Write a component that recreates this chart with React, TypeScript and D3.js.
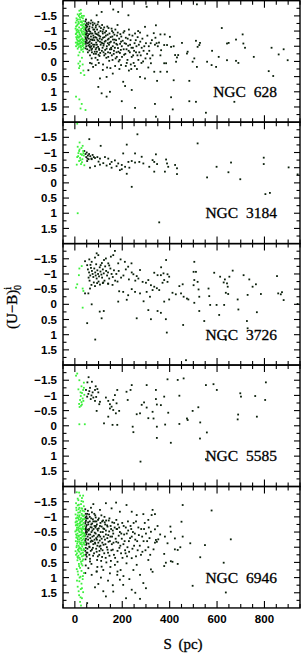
import React from "react";
import * as d3 from "d3";

type P = [number, number];

const galaxyNames = ["NGC 628", "NGC 3184", "NGC 3726", "NGC 5585", "NGC 6946"];
const xMajorTicks = [0, 200, 400, 600, 800];
const yMajorTicks = [-1.5, -1, -0.5, 0, 0.5, 1, 1.5];
const yTickLabels = ["−1.5", "−1", "−0.5", "0", "0.5", "1", "1.5"];

const ngc628Green: P[] = [[8,-1.35],[15,-1.3],[22,-1.38],[30,-1.28],[36,-1.33],[12,-1.22],[26,-1.2],[40,-1.24],[5,-1.15],[18,-1.12],[33,-1.1],[10,-1.05],[24,-1.02],[38,-1.05],[14,-0.98],[29,-0.95],[6,-0.92],[20,-0.9],[35,-0.88],[42,-0.95],[11,-0.85],[26,-0.82],[17,-0.78],[32,-0.76],[8,-0.74],[39,-0.72],[22,-0.7],[14,-0.66],[28,-0.64],[4,-0.62],[35,-0.6],[19,-0.58],[10,-0.55],[25,-0.52],[31,-0.5],[16,-0.47],[38,-0.45],[21,-1.45],[30,-1.5],[12,-1.55],[26,-1.58],[19,-1.67],[21,-1.56],[34,-1.42],[7,-1.42],[17,-1.25],[31,-1.18],[3,-1.08],[27,-1.07],[36,-0.98],[9,-0.96],[23,-0.86],[41,-0.83],[13,-0.8],[29,-0.73],[18,-0.68],[37,-0.67],[6,-0.8],[24,-0.6],[33,-0.55],[12,-0.42],[27,-0.38],[20,-0.3],[35,-0.32],[15,-0.2],[30,-0.12],[15,0.07],[22,0.0],[33,0.1],[18,0.22],[36,0.3],[25,0.38],[40,0.45],[21,0.15],[5,1.16],[19,1.25],[29,1.4],[24,1.55],[45,1.6],[16,-1.02],[32,-0.9],[9,-1.18],[28,-1.32],[37,-1.15],[19,-0.82],[4,-0.9],[25,-0.72],[13,-0.58],[34,-0.7]];
const ngc628GreenExtra: P[] = [[4,-1.28],[13,-1.38],[24,-1.3],[35,-1.22],[41,-1.12],[7,-1.02],[18,-0.95],[29,-1.0],[39,-0.9],[11,-0.7],[20,-0.65],[31,-0.62],[40,-0.58],[5,-0.5],[15,-0.55],[26,-0.45],[36,-0.52],[9,-0.62],[22,-0.5],[33,-0.4],[17,-1.5],[28,-1.45],[38,-1.5],[25,-1.7]];
const ngc628Black: P[] = [[44,-1.32],[46,-1.2],[45,-1.1],[48,-1.02],[44,-0.95],[47,-0.88],[45,-0.8],[49,-0.72],[44,-0.65],[46,-0.58],[48,-0.5],[45,-0.43],[50,-1.26],[52,-1.15],[51,-0.98],[53,-0.84],[50,-0.68],[54,-0.6],[52,-0.4],[47,-1.38],[55,-0.3],[44,-1.05],[46,-0.75],[47,-0.62],[45,-0.9],[49,-1.12],
[58,-1.28],[62,-1.15],[57,-1.05],[65,-0.98],[60,-0.9],[68,-0.82],[59,-0.75],[63,-0.66],[70,-0.6],[57,-0.52],[66,-0.45],[61,-0.36],[72,-0.3],[64,-0.2],[76,-1.2],[78,-1.05],[74,-0.92],[79,-0.78],[75,-0.7],[77,-0.55],[73,-0.42],[80,-0.25],[69,-1.35],[71,-0.1],[57,0.29],[71,0.07],[60,-1.0],[67,-0.72],[62,-0.55],[74,-1.12],[56,-0.85],[69,-0.5],
[83,-1.25],[88,-1.12],[85,-0.98],[92,-0.9],[86,-0.8],[95,-0.72],[90,-0.62],[84,-0.55],[98,-0.48],[88,-0.4],[93,-0.32],[100,-0.22],[87,-0.12],[96,-0.05],[104,-1.15],[108,-1.0],[102,-0.85],[106,-0.65],[109,-0.55],[103,-0.38],[107,-0.28],[101,0.05],[92,-1.52],[113,-1.63],[99,-1.3],[106,0.56],[99,0.84],[113,1.05],[94,-1.05],[82,-0.7],[97,-0.88],[89,-0.25],[105,-0.75],[91,-0.45],
[115,-1.2],[120,-1.05],[118,-0.92],[125,-0.8],[114,-0.72],[130,-0.68],[122,-0.58],[135,-0.5],[117,-0.45],[128,-0.38],[140,-0.3],[124,-0.2],[133,-0.12],[145,-0.02],[138,-0.88],[143,-0.75],[147,-0.62],[132,-1.0],[148,-0.4],[119,0.1],[136,0.2],[142,-1.1],[134,0.51],[148,1.0],[134,1.16],[121,-0.3],[127,-0.95],[139,-0.6],[116,-0.6],
[155,-1.08],[162,-0.95],[158,-0.82],[168,-0.72],[152,-0.65],[175,-0.58],[160,-0.5],[182,-0.44],[165,-0.35],[190,-0.28],[156,-0.2],[172,-0.1],[185,0.0],[195,-0.65],[198,-0.5],[178,-0.85],[192,-0.9],[170,0.15],[188,0.25],[162,-1.71],[183,-1.63],[180,-1.2],[198,1.31],[160,0.4],[166,-0.62],[154,-0.4],[176,-0.3],
[205,-0.95],[215,-0.78],[210,-0.6],[225,-0.52],[218,-0.4],[232,-0.3],[208,-0.22],[240,-0.15],[222,-0.05],[248,0.05],[235,-0.7],[252,-0.6],[245,-0.45],[228,-1.05],[226,-1.52],[254,-0.92],[204,0.67],[212,0.81],[240,0.94],[254,1.53],[238,0.25],[258,-0.3],[215,0.15],
[265,-0.8],[275,-0.95],[270,-0.55],[282,-0.45],[290,-0.35],[278,-0.2],[296,-1.14],[300,-0.6],[305,-0.25],[312,-0.5],[318,-0.1],[288,0.0],[275,0.51],[296,0.56],[303,-1.8],[325,-0.7],[268,-0.05],[310,0.2],
[342,-1.19],[361,-0.89],[379,-0.89],[401,-0.81],[333,-0.93],[340,-0.78],[345,-0.6],[338,-0.55],[350,-0.5],[355,-0.62],[377,-0.54],[389,-0.54],[364,-0.37],[361,-0.2],[377,0.06],[385,0.06],[321,0.06],[335,0.34],[347,0.64],[361,0.34],[389,0.34],[406,-0.48],[417,-0.5],[423,-0.21],[431,-0.13],[436,-0.21],[427,0.01],[452,-0.61],[417,0.62],[483,0.64],[476,-0.32],[473,-0.26],[497,0.01],[504,-0.1],[511,-0.68],[528,-0.61],[525,-0.54],[518,-0.48],[515,0.18],[406,1.18],[413,1.58],[483,1.31],[511,1.33],[553,1.69],[342,1.82],[338,1.4],[558,0.01],[577,0.12],[596,0.18],[579,-0.35],[607,-0.15],[620,-1.1],[642,-0.59],[649,-0.61],[642,-0.04],[680,-0.72],[708,-0.89],[711,-0.59],[718,-0.45],[680,-0.02],[690,0.05],[673,1.33],[755,-0.15],[818,0.32],[837,0.48],[830,-0.45],[860,-0.23],[881,-0.4],[898,-0.04],[515,-1.88]];
const ngc628BlackCore: P[] = [[48,-1.18],[51,-0.92],[53,-0.78],[56,-1.22],[59,-0.62],[61,-1.08],[63,-0.48],[66,-1.25],[68,-0.92],[70,-0.38],[73,-0.72],[75,-1.28],[78,-0.85],[80,-0.48],[82,-1.05],[84,-0.32],[87,-0.92],[89,-1.18],[91,-0.78],[93,-0.55],[96,-1.22],[98,-0.68],[100,-0.95],[102,-0.42],[104,-0.18],[107,-0.82],[110,-1.1],[112,-0.62],[114,-0.35],[117,-0.98],[119,-0.78],[121,-0.52],[124,-1.12],[126,-0.65],[129,-0.25],[131,-0.85],[134,-0.42],[137,-1.15],[139,-0.72],[141,-0.15],[144,-0.55],[146,-0.92],[149,-0.28],[151,-0.8],[153,-0.45],[157,-1.0],[159,-0.05],[161,-0.72],[164,-0.25],[167,-0.88],[169,-0.45],[171,-1.05],[174,-0.7],[177,-0.15],[179,-0.55],[181,-0.95],[184,-0.32],[187,-0.75],[189,-0.05],[191,-0.58],[194,-0.38],[196,-0.82],[199,-0.15],[202,-0.68],[206,-0.4],[209,-1.0],[213,-0.25],[216,-0.58],[219,0.05],[223,-0.75],[227,-0.35],[230,-0.88],[233,-0.55],[236,0.1],[239,-0.45],[243,-0.85],[246,-0.2],[250,-0.35],[253,0.15],[257,-0.7],[260,-0.5],[264,-0.2],[267,-1.0],[272,-0.3],[276,-0.65],[281,0.05],[285,-0.75],[293,-0.5],[298,-0.1],[306,-0.85],[314,-0.35],[320,-0.6],[328,-0.2],[262,0.25],[228,0.3],[195,0.12],[150,0.22],[118,0.28],[88,0.12],[64,0.05],[77,0.18]];

const ngc3184Green: P[] = [[12,-1.19],[20,-1.1],[28,-1.15],[35,-1.05],[15,-0.98],[25,-0.95],[38,-0.9],[10,-0.85],[22,-0.82],[32,-0.78],[18,-0.72],[30,-0.68],[8,-0.6],[26,-0.62],[40,-0.58],[20,-1.33],[33,-1.22],[14,-0.88],[36,-0.98],[24,-0.75],[12,1.0],[10,-1.95],[18,-1.05],[30,-0.92]];
const ngc3184Black: P[] = [[40,-1.05],[45,-0.95],[50,-1.0],[55,-0.9],[48,-0.85],[60,-0.95],[65,-0.88],[70,-0.8],[58,-0.78],[75,-0.92],[80,-0.85],[52,-0.72],[61,-1.44],[109,-1.22],[219,-1.26],[264,-1.6],[204,-0.97],[254,-0.97],[282,-0.86],[240,0.13],[53,-0.8],[71,-0.78],[85,-0.82],[95,-0.85],[106,-0.8],[127,-0.85],[141,-0.8],[155,-0.69],[169,-0.74],[183,-0.64],[198,-0.59],[212,-0.53],[226,-0.69],[240,-0.72],[254,-0.67],[272,-0.69],[289,-0.64],[314,-0.53],[64,-0.5],[85,-0.55],[106,-0.6],[134,-0.57],[155,-0.5],[176,-0.55],[198,-0.45],[219,-0.3],[100,-0.7],[120,-0.65],[148,-0.62],[190,-0.42],[230,-0.5],
[518,-1.3],[342,-0.94],[328,-0.75],[335,-0.69],[347,-0.62],[335,-0.37],[385,-0.77],[389,-0.64],[394,-0.53],[380,-0.37],[423,-0.59],[431,-0.48],[431,-0.29],[558,-0.18],[598,-0.53],[648,-0.35],[659,-0.67],[698,-0.12],[797,-0.83],[797,-0.62],[804,0.37],[823,0.33],[902,-0.51],[940,-0.28],[356,1.3]];

const ngc3726Green: P[] = [[29,-1.26],[19,-1.18],[17,-0.96],[10,-0.66],[5,-0.55],[33,-0.52],[36,-0.44],[33,0.11]];
const ngc3726Black: P[] = [[43,-1.42],[52,-1.29],[61,-1.48],[71,-1.4],[85,-1.54],[92,-1.68],[99,-1.62],[109,-1.29],[123,-1.46],[131,-1.51],[141,-1.35],[152,-1.57],[162,-1.62],[169,-1.76],[183,-1.35],[193,-1.48],[211,-1.4],[225,-1.24],[239,-1.35],[247,-0.99],[261,-0.93],[275,-1.13],[286,-0.74],[300,-0.71],[310,-0.8],
[55,-1.15],[60,-1.05],[65,-0.95],[58,-0.88],[68,-1.2],[72,-1.1],[75,-1.0],[78,-0.9],[82,-1.18],[86,-1.05],[88,-0.95],[92,-0.85],[95,-1.12],[98,-1.0],[102,-0.92],[105,-1.22],[108,-1.08],[112,-0.98],[115,-0.88],[118,-1.15],[122,-1.02],[125,-0.78],[128,-1.25],[132,-1.1],[136,-0.95],[140,-1.05],[145,-0.85],[150,-1.18],[155,-1.0],[160,-0.9],[165,-1.12],[170,-0.78],[62,-0.78],[80,-0.72],[100,-0.75],[118,-0.7],[140,-0.68],[66,-1.3],[90,-1.32],[114,-1.36],[145,-1.28],[175,-1.0],[185,-1.1],[195,-0.88],[205,-0.95],[215,-1.15],[228,-0.82],[240,-1.05],[255,-0.78],[268,-0.85],[180,-0.75],
[70,-0.64],[85,-0.6],[64,-0.52],[94,-0.7],[106,-0.65],[120,-0.72],[141,-0.68],[159,-0.64],[187,-0.43],[204,-0.41],[225,-0.3],[240,-0.5],[254,-0.41],[275,-0.36],[303,-0.41],[317,-0.25],[43,-0.36],[57,-0.36],
[71,0.0],[105,0.24],[122,0.22],[113,0.46],[52,0.62],[86,1.16],[261,0.46],[310,0.19],[183,-0.09],[219,-0.15],[290,-0.1],
[385,-1.46],[364,-1.22],[504,-1.4],[511,-1.07],[335,-1.04],[349,-0.96],[363,-0.96],[374,-1.02],[391,-0.99],[398,-0.91],[377,-0.8],[391,-0.74],[370,-0.71],[321,-0.63],[335,-0.58],[346,-0.53],[356,-0.47],[328,-0.47],[412,-0.38],[426,-0.33],[448,-0.36],[455,-0.66],[441,-0.6],[459,-0.25],[473,-0.19],[479,-0.16],[501,-1.07],[504,-0.8],[518,-0.74],[501,-0.63],[522,-0.49],[525,-0.25],[504,-0.05],[525,0.22],[398,-0.16],[377,-0.09],[363,0.28],[349,0.22],[384,0.49],[388,0.93],[457,0.68],[321,0.49],[546,0.55],[564,-0.52],[567,-0.27],[571,0.02],[588,-1.04],[598,0.02],[613,-0.91],[628,-0.72],[633,-0.82],[642,-0.69],[645,-0.58],[637,-0.38],[647,-0.34],[630,0.02],[652,-0.91],[666,-1.11],[609,0.35],[687,-0.16],[690,0.17],[712,-0.96],[736,-0.82],[729,-0.31],[750,-0.58],[764,-0.66],[768,0.26],[726,0.55],[729,0.79],[637,1.17],[785,-0.34],[853,-0.93],[858,-0.36],[869,-0.33],[874,-0.4],[881,-0.14],[940,-0.01],[469,1.84]];

const ngc5585Green: P[] = [[5,-1.65],[19,-1.5],[28,-1.3],[38,-1.42],[35,-1.18],[30,-1.08],[40,-1.02],[25,-0.98],[33,-0.9],[22,-0.85],[28,-0.78],[18,-0.72],[26,-0.66],[20,-0.62],[30,-0.7],[36,-0.82],[19,-0.05],[42,-0.05],[15,-1.2],[38,-1.25],[10,-1.72],[24,-1.1]];
const ngc5585Black: P[] = [[53,-1.43],[47,-1.18],[61,-1.14],[52,-0.96],[67,-0.88],[85,-1.18],[95,-1.21],[99,-1.1],[78,-0.93],[85,-0.82],[103,-0.71],[106,-0.79],[92,-0.49],[123,-0.08],[131,-0.93],[141,-0.82],[148,-0.71],[155,-0.63],[148,-0.57],[162,-0.52],[169,-1.01],[179,-1.18],[162,-0.85],[176,-0.74],[173,-0.41],[141,-0.3],[159,-0.03],[179,-0.03],[187,-0.49],[218,-1.12],[235,-1.18],[223,-0.85],[240,-1.34],[244,0.03],[247,0.21],[261,-0.38],[275,-0.41],[282,-0.69],[292,-0.77],[303,-0.6],[310,-0.25],[303,-1.34],[277,1.18],[57,-1.05],[70,-1.0],[64,-1.25],[75,-1.1],[90,-0.95],[58,-1.6],[72,-1.45],[88,-1.3],
[391,-1.53],[434,-1.51],[459,-1.56],[342,-1.18],[377,-0.96],[342,-0.88],[346,-0.7],[363,-0.68],[441,-0.99],[328,-0.46],[332,-0.24],[346,0.03],[346,0.4],[394,-0.43],[381,-0.04],[405,0.56],[441,-0.06],[473,-0.24],[476,-0.19],[497,-0.49],[521,-0.61],[529,-0.11],[553,-1.34],[585,-1.37],[599,-1.18],[557,0.22],[528,0.42],[553,1.1],[698,-1.07],[701,-0.96],[689,-0.37],[687,-0.21],[761,-0.98],[768,-0.3],[806,-1.43],[803,-0.85]];

const ngc6946Green: P[] = [[8,-1.81],[22,-1.7],[30,-1.62],[15,-1.55],[35,-1.5],[5,-1.45],[26,-1.42],[12,-1.38],[38,-1.35],[19,-1.3],[31,-1.27],[7,-1.22],[24,-1.2],[40,-1.18],[14,-1.14],[29,-1.1],[3,-1.08],[20,-1.05],[35,-1.02],[10,-0.98],[26,-0.96],[41,-0.93],[17,-0.9],[32,-0.88],[6,-0.85],[22,-0.82],[37,-0.8],[13,-0.77],[28,-0.74],[4,-0.72],[19,-0.7],[34,-0.67],[9,-0.64],[25,-0.62],[39,-0.6],[15,-0.57],[30,-0.55],[2,-0.52],[21,-0.5],[36,-0.48],[11,-0.45],[27,-0.42],[42,-0.4],[17,-0.38],[32,-0.35],[6,-0.32],[23,-0.3],[38,-0.28],[13,-0.25],[29,-0.22],[4,-0.2],[19,-0.18],[35,-0.15],[10,-0.12],[25,-0.1],[40,-0.08],[16,-0.05],[31,-0.02],[7,0.0],[22,0.03],[37,0.05],[13,0.08],[28,0.1],[3,0.13],[19,0.15],[34,0.18],[9,0.2],[24,0.23],[39,0.25],[15,0.28],[30,0.3],[20,0.35],[35,0.4],[11,0.43],[26,0.48],[17,0.55],[32,0.6],[22,0.68],[8,0.72],[28,0.78],[38,0.85],[14,0.9],[24,0.97],[33,1.05],[19,1.12],[28,1.2],[12,1.3],[25,1.38],[35,1.48],[18,1.58],[30,1.68],[22,1.8],[26,1.92],
[18,-1.0],[33,-0.92],[8,-0.58],[23,-0.4],[14,-0.65],[29,-0.85],[36,-0.6],[11,-0.3],[26,-0.15],[21,-1.15],[32,-0.45],[5,-0.95],[40,-0.35],[17,0.05],[27,-0.58],[12,-1.05],[34,-1.2],[9,-0.38],[24,-0.72],[38,-0.12],[16,-1.25],[31,-1.05],[7,-0.75],[20,-0.25],[36,0.1],[13,0.35],[27,0.2],[18,-0.52],[33,-0.75],[10,-0.85],[23,-0.92]];
const ngc6946GreenExtra: P[] = [[6,-1.3],[17,-1.4],[28,-1.28],[39,-1.05],[3,-0.82],[14,-0.95],[25,-0.85],[36,-0.92],[10,-0.72],[21,-0.78],[32,-0.62],[41,-0.7],[7,-0.55],[18,-0.62],[29,-0.5],[39,-0.45],[5,-0.42],[16,-0.35],[27,-0.3],[37,-0.38],[12,-0.18],[22,-0.12],[33,-0.25],[41,-0.18],[8,-0.05],[19,0.0],[30,-0.08],[39,0.08],[5,0.25],[15,0.12],[26,0.05],[36,0.28],[11,0.32],[22,0.4],[32,0.45],[18,0.62],[28,0.55],[12,0.8],[34,0.95],[20,1.0],[9,1.1],[30,1.35],[16,1.45],[24,1.65],[12,-1.6],[28,-1.52],[18,-1.8],[35,-1.7]];
const ngc6946Black: P[] = [[44,-1.25],[46,-1.1],[45,-0.98],[47,-0.88],[44,-0.78],[48,-0.68],[45,-0.58],[46,-0.48],[44,-0.38],[47,-0.28],[45,-0.18],[48,-0.08],[46,0.02],[44,0.12],[47,0.25],[45,0.4],[46,0.6],[44,0.85],[49,-1.02],[50,-0.73],[49,-0.43],[50,-0.13],[49,0.18],[45,-0.83],[47,-0.53],[44,-0.23],[46,-0.63],
[55,-1.2],[60,-1.08],[54,-0.95],[63,-0.85],[57,-0.75],[66,-0.66],[52,-0.58],[70,-0.5],[59,-0.42],[74,-0.35],[56,-0.25],[67,-0.18],[78,-0.1],[61,-0.02],[72,0.08],[53,0.18],[77,0.28],[64,0.38],[57,0.69],[64,0.47],[50,0.31],[71,0.91],[68,-1.3],[76,-0.92],[79,-0.6],[73,-0.78],[58,-0.55],[65,-0.3],[75,-0.2],[62,0.0],[69,-0.95],[54,-0.35],[71,-0.65],
[82,-1.1],[88,-0.98],[85,-0.85],[93,-0.75],[87,-0.65],[97,-0.55],[84,-0.48],[100,-0.4],[90,-0.3],[105,-0.22],[86,-0.12],[95,-0.05],[110,0.05],[92,0.15],[103,0.25],[115,0.32],[98,-0.9],[108,-0.8],[113,-0.68],[118,-0.5],[107,-0.35],[116,-0.15],[112,-1.05],[92,0.8],[113,0.64],[85,1.32],[99,1.21],[78,-1.42],[106,-1.23],[83,-0.25],[101,-0.62],[119,-0.88],[94,0.42],[89,-0.7],[104,-0.02],[96,-0.35],
[125,-1.0],[132,-0.88],[128,-0.75],[138,-0.68],[124,-0.6],[145,-0.52],[131,-0.42],[150,-0.35],[127,-0.25],[142,-0.18],[156,-0.1],[135,0.0],[160,0.08],[140,0.18],[165,0.25],[130,0.35],[152,0.45],[148,0.86],[169,0.58],[162,1.46],[131,1.62],[131,-1.45],[155,-1.28],[158,-0.82],[168,-0.65],[162,-0.45],[146,-0.95],[137,-0.3],[121,-0.08],[153,-0.6],
[175,-0.9],[182,-0.75],[178,-0.6],[190,-0.5],[185,-0.38],[198,-0.28],[175,-0.18],[205,-0.1],[188,0.02],[212,0.1],[195,0.2],[220,0.3],[180,0.12],[208,-0.42],[215,-0.65],[225,-0.55],[200,-0.8],[228,-0.2],[174,-1.47],[190,-1.17],[179,0.91],[190,1.07],[204,1.24],[216,1.68],[218,0.53],[193,0.75],[218,-1.39],[222,0.0],
[235,-0.7],[245,-0.5],[240,-0.35],[255,-0.25],[250,-0.05],[265,0.1],[270,-0.4],[280,-0.6],[290,-0.2],[300,-0.45],[285,0.15],[310,0.0],[240,-1.17],[261,-1.06],[289,-1.09],[310,-0.9],[240,1.4],[275,0.91],[289,1.18],[300,1.35],[247,0.75],[261,0.58],[310,0.42],[240,0.36],[295,-0.8],[315,-0.3],[258,-0.85],[52,1.84],[92,0.8],
[455,-1.39],[577,-1.21],[328,-1.23],[338,-1.09],[324,-1.06],[450,-0.84],[403,-0.68],[405,-0.51],[349,-0.7],[338,-0.59],[321,-0.51],[360,-0.42],[342,-0.24],[346,-0.18],[338,-0.15],[352,-0.26],[332,0.07],[380,-0.35],[391,-0.13],[422,-0.29],[455,-0.35],[487,-0.13],[549,-0.07],[658,-0.26],[422,0.07],[434,0.09],[445,0.0],[377,0.22],[384,0.51],[377,0.62],[405,0.46],[412,0.48],[434,0.55],[529,0.33],[628,0.51],[497,1.27],[637,1.49],[321,0.73],[328,0.81]];
const ngc6946BlackCore: P[] = [[48,-0.95],[51,-0.5],[52,-1.1],[53,0.05],[56,-0.82],[58,-0.12],[60,-0.6],[61,0.25],[63,-1.0],[65,-0.42],[67,0.12],[69,-0.75],[70,-0.22],[72,-1.15],[74,-0.55],[76,0.02],[78,-0.85],[80,-0.38],[81,0.2],[83,-0.7],[85,-0.15],[86,-1.05],[88,-0.45],[90,0.05],[91,-0.85],[93,-0.25],[95,-0.6],[97,0.3],[99,-0.15],[101,-0.95],[102,-0.4],[104,0.12],[106,-0.7],[108,-0.05],[109,-0.5],[111,0.45],[113,-0.28],[115,-0.85],[117,0.1],[120,-0.62],[122,-0.35],[124,0.2],[126,-0.82],[129,-0.1],[131,-0.55],[133,0.5],[136,-0.72],[138,0.08],[141,-0.4],[143,-0.88],[146,0.28],[148,-0.2],[151,-0.7],[154,0.1],[157,-0.35],[160,-0.55],[163,-0.15],[166,-0.8],[170,0.35],[172,-0.28],[176,-0.6],[180,0.48],[183,-0.15],[187,-0.65],[192,-0.05],[196,-0.45],[201,0.35],[206,-0.7],[210,-0.2],[214,0.2],[219,-0.45],[224,-0.85],[229,0.15],[233,-0.3],[238,-0.6],[243,0.05],[248,-0.8],[253,-0.45],[258,0.3],[263,-0.2],[268,-0.65],[274,-0.05],[279,0.25],[284,-0.35],[292,-0.6],[298,0.1],[305,-0.2],[312,-0.65],[318,0.25],[70,0.55],[95,0.65],[120,0.75],[150,0.65],[180,0.8],[110,1.0],[140,1.1],[205,0.95],[160,1.25],[230,1.05],[255,1.5],[120,1.45],[275,1.7]];

const greenSeries: P[][] = [ngc628Green.concat(ngc628GreenExtra), ngc3184Green, ngc3726Green, ngc5585Green, ngc6946Green.concat(ngc6946GreenExtra)];
const blackSeries: P[][] = [ngc628Black.concat(ngc628BlackCore), ngc3184Black, ngc3726Black, ngc5585Black, ngc6946Black.concat(ngc6946BlackCore)];

const W = 302;
const H = 654;
const LEFT = 63;
const RIGHT = 300;
const TOP0 = 0.7;
const PANEL_H = 121.45;

export default function App() {
  const x = d3.scaleLinear().domain([-50, 950]).range([LEFT, RIGHT]);
  const y = d3.scaleLinear().domain([-2, 2]).range([0, PANEL_H]);
  const xMinor = d3.range(-50, 951, 50);
  const yMinor = d3.range(-1.75, 1.76, 0.25);
  const labelFont = "'Liberation Sans', Arial, sans-serif";
  const serif = "'Liberation Serif', 'Times New Roman', serif";
  const greenCol = "#3cf03c";
  const blackCol = "#0a1f0a";

  return (
    <svg width={W} height={H} style={{ position: "absolute", left: 0, top: 0, background: "#fff" }}>
      {galaxyNames.map((name, i) => {
        const top = TOP0 + i * PANEL_H;
        return (
          <g key={name} transform={`translate(0,${top})`}>
            {blackSeries[i].map((d, j) => (
              <rect key={"b" + j} x={x(d[0]) - 0.9} y={y(d[1]) - 0.9} width={1.8} height={1.8} fill={blackCol} />
            ))}
            {greenSeries[i].map((d, j) => (
              <rect key={"g" + j} x={x(d[0]) - 0.9} y={y(d[1]) - 0.9} width={1.8} height={1.8} fill={greenCol} />
            ))}
            <rect x={LEFT} y={0} width={RIGHT - LEFT} height={PANEL_H} fill="none" stroke="#000" strokeWidth={1.4} />
            {yMinor.map((v) => {
              const isMajor = Math.abs(v * 2 - Math.round(v * 2)) < 1e-6;
              const len = isMajor ? 6 : 3.5;
              return (
                <g key={"yt" + v}>
                  <line x1={LEFT} x2={LEFT + len} y1={y(v)} y2={y(v)} stroke="#000" strokeWidth={1.1} />
                  <line x1={RIGHT} x2={RIGHT - len} y1={y(v)} y2={y(v)} stroke="#000" strokeWidth={1.1} />
                </g>
              );
            })}
            {xMinor.map((v) => {
              const isMajor = v % 200 === 0;
              const len = isMajor ? 7 : 4;
              return (
                <g key={"xt" + v}>
                  <line x1={x(v)} x2={x(v)} y1={0} y2={len} stroke="#000" strokeWidth={1.1} />
                  <line x1={x(v)} x2={x(v)} y1={PANEL_H} y2={PANEL_H - len} stroke="#000" strokeWidth={1.1} />
                </g>
              );
            })}
            {yMajorTicks.map((v, k) => (
              <text key={"yl" + v} x={57} y={y(v)} dy="0.36em" textAnchor="end" fontFamily={labelFont} fontWeight="bold" fontSize={11.5}>
                {yTickLabels[k]}
              </text>
            ))}
            <text x={277} y={96} textAnchor="end" fontFamily={serif} fontSize={15.5} wordSpacing={4} stroke="#000" strokeWidth={0.3}>
              {name}
            </text>
          </g>
        );
      })}
      {xMajorTicks.map((v) => (
        <text key={"xl" + v} x={x(v)} y={623} textAnchor="middle" fontFamily={labelFont} fontWeight="bold" fontSize={11.5}>
          {v}
        </text>
      ))}
      <text x={183} y={649} textAnchor="middle" fontFamily={serif} fontSize={15} wordSpacing={3} stroke="#000" strokeWidth={0.3}>
        S (pc)
      </text>
      <text transform="translate(17,307) rotate(-90)" textAnchor="middle" fontFamily={serif} fontSize={15} stroke="#000" strokeWidth={0.3}>
        (U−B)
        <tspan dy={-6} fontSize={10}>i</tspan>
        <tspan dx={-3} dy={10} fontSize={10}>0</tspan>
      </text>
    </svg>
  );
}
